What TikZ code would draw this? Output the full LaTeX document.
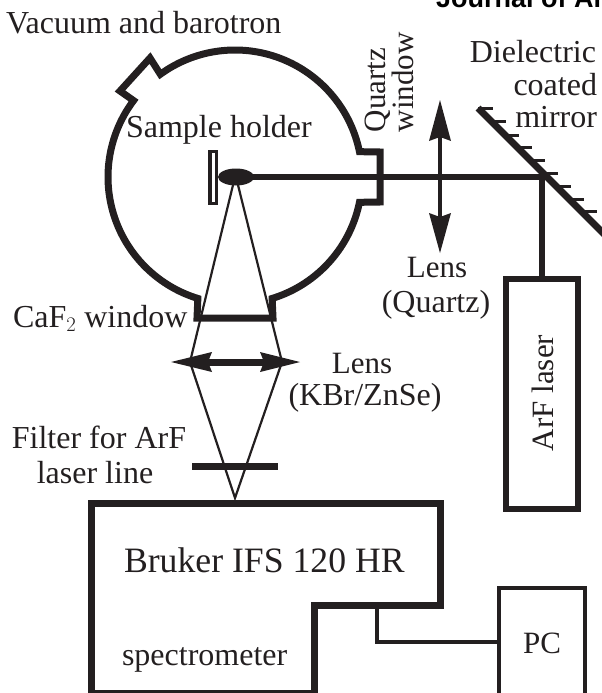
\documentclass[tikz,border=0pt]{standalone}
\usepackage{fontspec}
\usetikzlibrary{shapes.geometric}
\setmainfont{Liberation Serif}
\newfontfamily\headfont[Ligatures=TeX]{Liberation Sans}
\definecolor{ink}{HTML}{231F20}
\tikzset{
  lbl/.style={inner sep=0pt,outer sep=0pt,text=ink,font=\fontsize{32}{32}\selectfont},
  lblmid/.style={lbl,font=\fontsize{31}{31}\selectfont},
  lblbig/.style={lbl,font=\fontsize{35.7}{35.7}\selectfont},
  heavy/.style={draw=ink,line width=7pt,miter limit=10},
  beam/.style={draw=ink,line width=6pt},
  ray/.style={draw=ink,line width=2.2pt},
  tick/.style={draw=ink,line width=3pt},
  thin box/.style={draw=ink,line width=3.2pt},
  head/.style={fill=ink,draw=none},
}
\begin{document}
\begin{tikzpicture}[x=1pt,y=-1pt]
\useasboundingbox (0,0) rectangle (602,693);
\clip (0,0) rectangle (602,693);
% named anchors
\coordinate (spot) at (236,177);
\coordinate (hit) at (542,177);
\coordinate (rayL) at (233,185);
\coordinate (rayR) at (238,185);
\coordinate (lensL) at (190,362);
\coordinate (lensR) at (282,362);
\coordinate (focus) at (235,498);
\coordinate (specport) at (377,605);
\coordinate (pcport) at (499,642);
\coordinate (mirrorA) at (478,108);
\coordinate (mirrorB) at (610,240);
% chamber
\draw[heavy,line join=miter] (273,318) -- (197,318)
  -- plot[domain=107:217,samples=80] ({235+127*cos(\x)},{177+127*sin(\x)})
  -- (120,91) -- (150,58)
  -- plot[domain=234:348.5,samples=80] ({235+127*cos(\x)},{177+127*sin(\x)})
  -- (380,152) -- (380,202)
  -- plot[domain=11.5:73,samples=50] ({235+127*cos(\x)},{177+127*sin(\x)})
  -- cycle;
% sample holder
\node[draw=ink,line width=3.5pt,fill=white,minimum width=6.5pt,minimum height=52pt,inner sep=0pt] (holder) at (213,177.5) {};
\node[ellipse,fill=ink,minimum width=36pt,minimum height=17pt,inner sep=0pt] (sample) at (spot) {};
% beam
\draw[beam] (spot) -- (hit);
% mirror
\draw[draw=ink,line width=7pt] (mirrorA) -- (mirrorB);
\foreach \yy/\xx in {108.3/493,121.7/506,135/519,147.7/532,160.7/545,173.3/558,186/571,199/584,211.7/597}
  \draw[tick] (\xx-15,\yy) -- (\xx,\yy);
% quartz lens
\draw[draw=ink,line width=4.5pt] (440,130) -- (440,225);
\fill[head] (440,100) -- (451,141) -- (440,137) -- (429,141) -- cycle;
\fill[head] (440,253) -- (451,213) -- (440,217) -- (429,213) -- cycle;
% rays
\draw[ray] (rayL) -- (lensL) -- (focus) -- (lensR) -- (rayR);
% KBr lens
\draw[draw=ink,line width=7pt] (200,362) -- (270,362);
\fill[head] (171,362) -- (212,352) -- (208,362) -- (212,372) -- cycle;
\fill[head] (300,362) -- (260,352) -- (264,362) -- (260,372) -- cycle;
% filter
\draw[draw=ink,line width=7pt] (192,466) -- (278,466);
% spectrometer
\draw[heavy] (91,503) -- (440,503) -- (440,605) -- (314,605) -- (314,693) -- (91,693) -- cycle;
% ArF laser
\node[draw=ink,line width=6pt,minimum width=72pt,minimum height=230pt,inner sep=0pt] (laser) at (542,394) {};
\draw[beam] (hit) -- (laser.north);
% PC
\node[thin box,minimum width=86pt,minimum height=130pt,inner sep=0pt] (pc) at (542,653) {};
\draw[thin box] (specport) |- (pcport);
% labels
\node[lbl,anchor=base west] (vac) at (6,34) {Vacuum and barotron};
\node[lbl,anchor=base west] (sh) at (126,137) {Sample holder};
\node[lblmid,anchor=base west,rotate=90] (qz) at (385,132) {Quartz};
\node[lblmid,anchor=base west,rotate=90] (wd) at (413,132) {window};
\node[lbl,anchor=base east] (d1) at (596,63) {Dielectric};
\node[lbl,anchor=base east] (d2) at (597,95) {coated};
\node[lbl,anchor=base east] (d3) at (597,127) {mirror};
\node[lblmid,anchor=base] (l1) at (437,277) {Lens};
\node[lbl,anchor=base] (l2) at (436,312) {(Quartz)};
\node[lbl,anchor=base west] (caf) at (13,327) {CaF$_2$ window};
\node[lblmid,anchor=base] (l3) at (362,373) {Lens};
\node[lbl,anchor=base] (l4) at (365,405) {(KBr/ZnSe)};
\node[lbl,anchor=base] (f1) at (99,448) {Filter for ArF};
\node[lbl,anchor=base] (f2) at (95,483) {laser line};
\node[lblbig,anchor=base west] (bk) at (124,572) {Bruker IFS 120 HR};
\node[lbl,anchor=base west] (sp) at (122,665) {spectrometer};
\node[lblmid,anchor=base] (pct) at (542,653) {PC};
\node[lblmid,anchor=base,rotate=90] (arf) at (553,393) {ArF laser};
\node[inner sep=0pt,text=black,anchor=base west,font=\headfont\bfseries\fontsize{27}{27}\selectfont] (jr) at (436,8) {Journal of Ar};
\end{tikzpicture}
\end{document}
